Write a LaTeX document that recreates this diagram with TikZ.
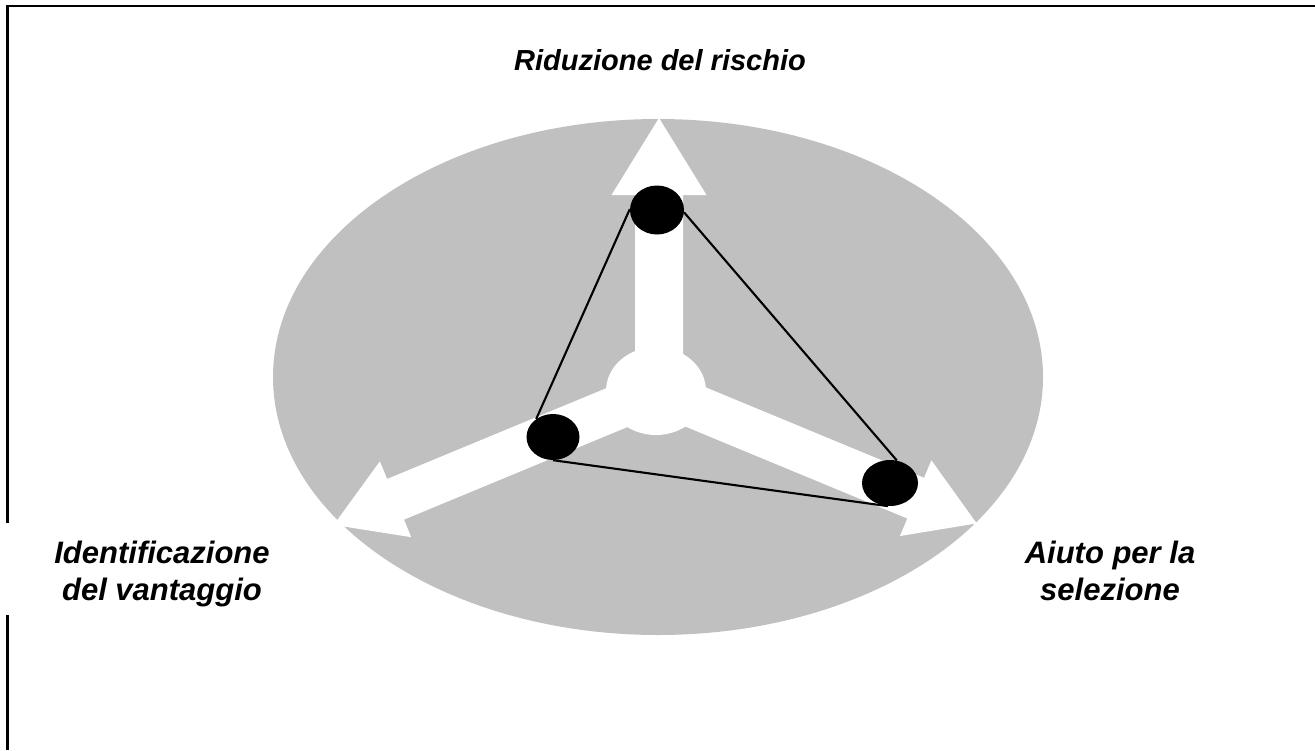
\documentclass[tikz,border=0pt]{standalone}
\usepackage{fontspec}
\setmainfont{Liberation Sans}
\usetikzlibrary{shapes.geometric}
\definecolor{ellgray}{RGB}{192,192,192}
\begin{document}
\begin{tikzpicture}[x=1pt,y=-1pt,
  lbl/.style={font=\fontsize{31}{37}\selectfont\bfseries\itshape, align=center, inner sep=0pt},
  toplbl/.style={font=\fontsize{29}{35}\selectfont\bfseries\itshape, inner sep=0pt},
  dot/.style={ellipse, fill=black, inner sep=0pt},
  arrowshape/.style={fill=white},
  edge/.style={line width=2.1pt, black},
  frame/.style={line width=2.5pt, black}]
\useasboundingbox (0,0) rectangle (1315,750);
% background ellipse
\fill[ellgray] (658,377) ellipse [x radius=385, y radius=258];
% white arrows
\begin{scope}[shift={(657,391)}, rotate=202.5]
  \fill[arrowshape] (0,-22) -- (283,-22) -- (283,-41) -- (350,0) -- (283,41) -- (283,22) -- (0,22) -- cycle;
\end{scope}
\begin{scope}[shift={(657,391)}, rotate=-22.5]
  \fill[arrowshape] (0,-22) -- (280,-22) -- (280,-41) -- (346,0) -- (280,41) -- (280,22) -- (0,22) -- cycle;
\end{scope}
\begin{scope}[shift={(659,391)}, rotate=90]
  \fill[arrowshape] (0,-24) -- (196,-24) -- (196,-47.5) -- (273,0) -- (196,47.5) -- (196,24) -- (0,24) -- cycle;
\end{scope}
% hub
\fill[white] (656,391) ellipse [x radius=50, y radius=44];
% dots
\node[dot, minimum width=54pt, minimum height=49pt] (t) at (657,210) {};
\node[dot, minimum width=53pt, minimum height=46pt] (l) at (553,437) {};
\node[dot, minimum width=56pt, minimum height=46pt] (r) at (890,483) {};
% triangle
\draw[edge] (t.178) -- (l.133);
\draw[edge] (t.355) -- (r.73);
\draw[edge] (l.270) -- (r.265);
% labels
\node[toplbl, anchor=base] (toplabel) at (660,70) {Riduzione del rischio};
\node[lbl] (leftlbl) at (162,574) {Identificazione\\del vantaggio};
\node[lbl] (rightlbl) at (1110,571) {Aiuto per la\\selezione};
% frame
\coordinate (fa) at (7.3,523);
\coordinate (fb) at (7.3,6.2);
\coordinate (fc) at (1315,6.2);
\coordinate (fd) at (7.3,615);
\coordinate (fe) at (7.3,750);
\draw[frame] (fa) -- (fb) -- (fc);
\draw[frame] (fd) -- (fe);
\end{tikzpicture}
\end{document}
